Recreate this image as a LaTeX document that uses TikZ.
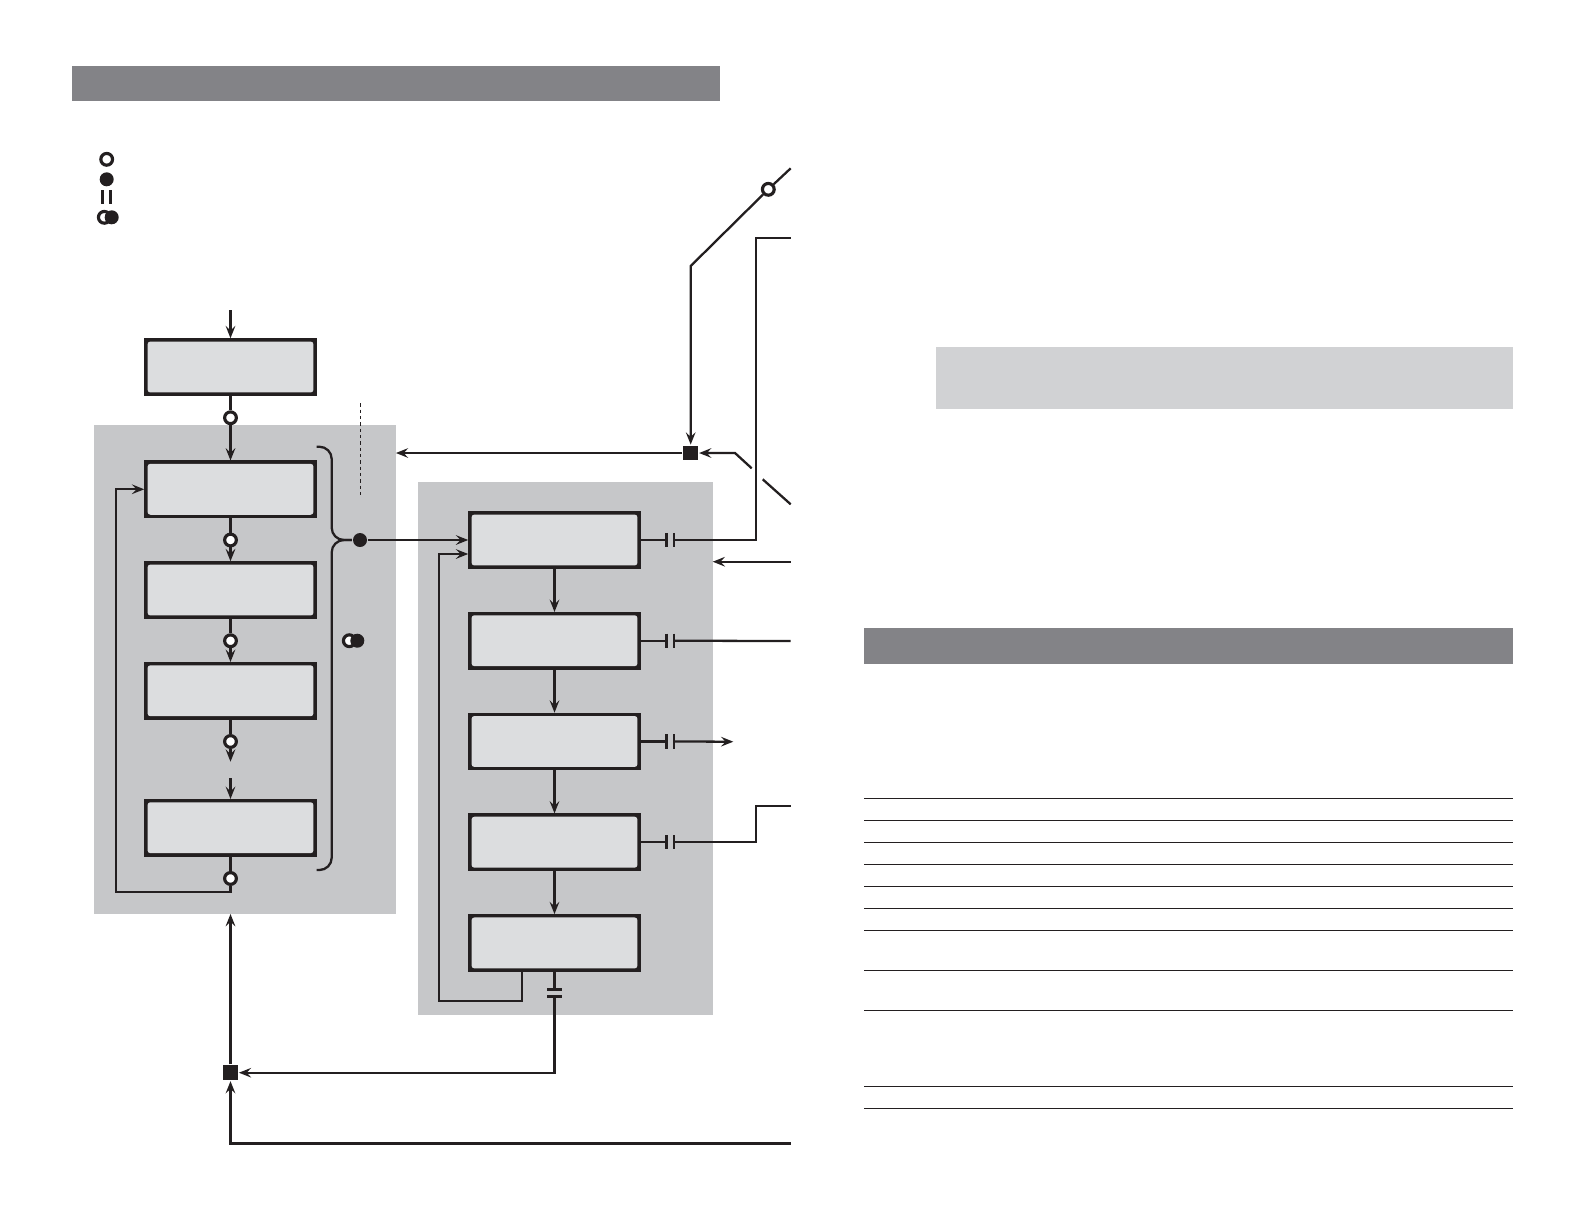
\documentclass[tikz,border=0pt]{standalone}
\usepackage{tikz}
\usetikzlibrary{positioning, arrows.meta}

\definecolor{barGray}{RGB}{131,131,135}
\definecolor{panelGray}{RGB}{198,199,201}
\definecolor{boxFill}{RGB}{220,221,223}
\definecolor{noteGray}{RGB}{209,210,212}
\definecolor{ink}{RGB}{35,31,32}

\tikzset{
  stage/.style={rectangle, fill=ink, draw=ink, line width=1.2pt, inner sep=0pt,
    minimum width=3.41cm, minimum height=1.11cm,
    path picture={\fill[boxFill, rounded corners=1.6pt]
      ([shift={(1.3pt,-1.3pt)}]path picture bounding box.north west) rectangle
      ([shift={(-1.3pt,1.3pt)}]path picture bounding box.south east);}},
  panel/.style={rectangle, fill=panelGray, inner sep=0pt, outer sep=0pt},
  hole/.style={circle, draw=ink, fill=white, line width=1.8pt, minimum size=0.235cm, inner sep=0pt},
  dot/.style={circle, fill=ink, minimum size=0.28cm, inner sep=0pt},
  junc/.style={rectangle, fill=ink, minimum size=0.29cm, inner sep=0pt},
  gapv/.style={rectangle, minimum width=4.2pt, minimum height=8pt, inner sep=0pt, outer sep=0pt},
  gaph/.style={rectangle, minimum width=8pt, minimum height=4.2pt, inner sep=0pt, outer sep=0pt},
  plate/.style={line width=1.5pt}
}

\begin{document}
\begin{tikzpicture}[x=0.02cm, y=-0.02cm, line width=1.3pt, color=ink,
    >={Stealth[length=7pt,width=5.5pt,inset=2.6pt]}, node distance=2.015cm, on grid]
    \useasboundingbox (0,0) rectangle (1585,1225);

    % header bars, note box and table rules
    \fill[barGray] (71.8,65.5) rectangle (720,101);
    \fill[barGray] (864.4,628) rectangle (1512.5,663.7);
    \fill[noteGray] (936,346.7) rectangle (1512.5,409);
    \foreach \y in {798.3,820.3,842.3,864.3,886.3,908.3,930.3,970.3,1010.3,1086.3,1108.3}
        \draw[line width=0.8pt] (864.4,\y) -- (1512.5,\y);

    % legend
    \node[hole] (lg1) at (106.7,159.3) {};
    \node[dot] (lg2) at (106.7,179.3) {};
    \draw[line width=1.5pt] (102.7,190) -- (102.7,204) (110.3,190) -- (110.3,204);
    \node[hole] (lg3) at (104.3,217.3) {};
    \node[dot] (lg4) at (111.7,217.3) {};

    % panels
    \node[panel, minimum width=6.032cm, minimum height=9.78cm] (p1) at (245.1,669.5) {};
    \node[panel, minimum width=5.894cm, minimum height=10.666cm] (p2) at (565.35,748.35) {};

    % left column
    \node[stage] (b1) at (230.5,367) {};
    \node[stage] (b2) [below=2.446cm of b1] {};
    \node[stage] (b3) [below=of b2] {};
    \node[stage] (b4) [below=of b3] {};
    \node[stage] (b5) [below=2.74cm of b4] {};
    \foreach \i in {1,...,5}
        \node[hole] (o\i) [below=0.29cm of b\i.south] {};

    % right column
    \node[stage] (r1) at (554.5,540) {};
    \node[stage] (r2) [below=of r1] {};
    \node[stage] (r3) [below=of r2] {};
    \node[stage] (r4) [below=of r3] {};
    \node[stage] (r5) [below=of r4] {};
    \foreach \i in {1,...,4}
        \node[gapv] (k\i) at (r\i.east -| 670.3,0) {};
    \node[gaph] (k5) at (554.5,993) {};
    \foreach \i in {1,...,4}
        \draw[plate] (k\i.north west) -- (k\i.south west) (k\i.north east) -- (k\i.south east);
    \draw[plate] (k5.north west) -- (k5.north east) (k5.south west) -- (k5.south east);

    % junctions
    \node[dot] (hub) at (360,540) {};
    \node[hole] (m1) at (349.3,640.7) {};
    \node[dot] (m2) at (357.3,640.7) {};
    \node[junc] (sq1) at (690.7,453) {};
    \node[junc] (sq2) at (230.5,1072.7) {};
    \node[hole] (o6) at (768.3,189.3) {};

    \coordinate (in) at (230.5,310);
    \coordinate (s1) at (790.7,168.3);
    \coordinate (s2) at (690.7,266);
    \coordinate (s3) at (751.7,468.3);
    \coordinate (s4) at (762.7,479.3);
    \coordinate (s5) at (790.7,504.3);
    \coordinate (e1) at (790.7,238.3);
    \coordinate (e2) at (790.7,561.7);
    \coordinate (e3) at (790.7,641);
    \coordinate (e4) at (733.3,741.7);
    \coordinate (e5) at (790.7,805.7);
    \coordinate (e6) at (790.7,1143.4);

    % left column flow
    \draw[->] (in) -- (b1);
    \draw (b1) -- (o1);
    \draw[->] (o1) -- (b2);
    \draw (b2) -- (o2);
    \draw[->] (o2) -- (b3);
    \draw (b3) -- (o3);
    \draw[->] (o3) -- (b4);
    \draw (b4) -- (o4);
    \draw[->] (o4) -- (230.5,761.7);
    \draw[->] (230.5,778.3) -- (b5);
    \draw (b5) -- (o5);
    \draw[->] (o5) |- (115.7,891.7) |- (b2.west);

    % brace and hand-over
    \draw[rounded corners=7pt] (316.7,446.7) -- (331.7,446.7) -- (331.7,540) -- (hub.west);
    \draw[rounded corners=7pt] (hub.west) -- (331.7,540) -- (331.7,870) -- (316.7,870);
    \draw[line width=0.6pt, dash pattern=on 2pt off 1.6pt] (360.3,403.3) -- (360.3,496.7);
    \draw[->] (hub) -- (r1.west);

    % right column flow
    \draw[->] (r1) -- (r2);
    \draw[->] (r2) -- (r3);
    \draw[->] (r3) -- (r4);
    \draw[->] (r4) -- (r5);
    \draw[->] ([xshift=-0.644cm]r5.south) |- (438.7,1000.7) |- ([yshift=-0.28cm]r1.west);
    \foreach \i in {1,...,4}
        \draw (r\i.east) -- (k\i.west);
    \draw (k1.east) -| (755.7,238.3) -- (e1);
    \draw[->] (e2) -- (e2 -| p2.east);
    \draw (k2.east) -- (e3);
    \draw[->] (k3.east) -- (e4);
    \draw (k4.east) -| (756,805.7) -- (e5);

    % top right
    \draw (s1) -- (o6);
    \draw[->] (o6) -- (s2) -- (sq1.north);
    \draw[->] (s3) -- (735,453) -- (sq1.east);
    \draw (s4) -- (s5);
    \draw[->] (sq1.west) -- (sq1.west -| p1.east);

    % bottom
    \draw (r5.south) -- (k5.north);
    \draw[->] (k5.south) |- (sq2.east);
    \draw[->] (e6) -| (sq2.south);
    \draw[->] (sq2.north) -- (sq2 |- p1.south);
\end{tikzpicture}
\end{document}
